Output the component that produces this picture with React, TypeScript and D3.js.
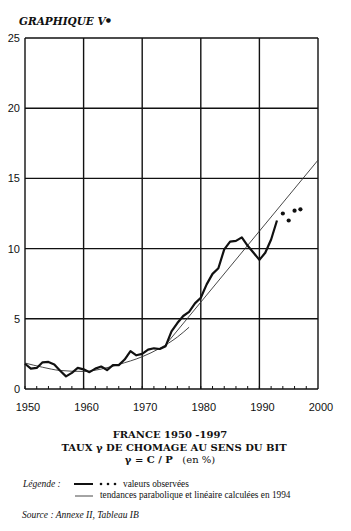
import { useMemo } from "react";
import * as d3 from "d3";

/* ------------------------------------------------------------------ */
/*  Data                                 */
/* ------------------------------------------------------------------ */

// Observed unemployment rate, 1950-1993 (solid line)
const observedYears = [
  1950, 1951, 1952, 1953, 1954, 1955, 1956, 1957, 1958, 1959,
  1960, 1961, 1962, 1963, 1964, 1965, 1966, 1967, 1968, 1969,
  1970, 1971, 1972, 1973, 1974, 1975, 1976, 1977, 1978, 1979,
  1980, 1981, 1982, 1983, 1984, 1985, 1986, 1987, 1988, 1989,
  1990, 1991, 1992, 1993,
];
const observedRates = [
  1.8, 1.45, 1.5, 1.9, 1.93, 1.75, 1.3, 0.9, 1.15, 1.5,
  1.4, 1.2, 1.45, 1.6, 1.35, 1.7, 1.7, 2.1, 2.7, 2.4,
  2.5, 2.8, 2.9, 2.85, 3.05, 4.1, 4.7, 5.2, 5.5, 6.1,
  6.5, 7.45, 8.2, 8.6, 9.95, 10.5, 10.55, 10.8, 10.2, 9.7,
  9.2, 9.7, 10.65, 12.0,
];

// Observed values after the trend date (dots)
const dotYears = [1994, 1995, 1996, 1997];
const dotRates = [12.5, 12.0, 12.7, 12.8];

// Parabolic trend (thin curve)
const paraYears = [1950, 1953, 1956, 1960, 1963, 1966, 1970, 1973, 1976, 1978];
const paraRates = [1.85, 1.55, 1.32, 1.25, 1.42, 1.75, 2.3, 2.9, 3.7, 4.4];

// Linear trend (thin straight line)
const linYears = [1974, 2000];
const linRates = [3.15, 16.3];

const yTicks = [0, 5, 10, 15, 20, 25];
const xTicks = [1950, 1960, 1970, 1980, 1990, 2000];

/* ------------------------------------------------------------------ */

const W = 351;
const H = 531;
const serif = "'DejaVu Serif', 'Liberation Serif', serif";
const times = "'Liberation Serif', serif";
const narrow = "'Liberation Sans Narrow', 'Liberation Sans', sans-serif";

export default function App() {
  const x = useMemo(() => d3.scaleLinear().domain([1950, 2000]).range([25, 318]), []);
  const y = useMemo(() => d3.scaleLinear().domain([0, 25]).range([389, 38]), []);

  const line = d3
    .line<[number, number]>()
    .x((d) => x(d[0]))
    .y((d) => y(d[1]));
  const curve = d3
    .line<[number, number]>()
    .x((d) => x(d[0]))
    .y((d) => y(d[1]))
    .curve(d3.curveMonotoneX);

  const observed = observedYears.map((yr, i) => [yr, observedRates[i]] as [number, number]);
  const para = paraYears.map((yr, i) => [yr, paraRates[i]] as [number, number]);
  const lin = linYears.map((yr, i) => [yr, linRates[i]] as [number, number]);
  const minorTicks = d3.range(1950, 2000, 2);

  return (
    <svg
      width={W}
      height={H}
      viewBox={`0 0 ${W} ${H}`}
      style={{ position: "absolute", left: 0, top: 0, background: "#fff" }}
    >
      {/* Header */}
      <text x={19} y={25} fontFamily={serif} fontSize={10.5} fontWeight={700} fontStyle="italic" fill="#111">
        GRAPHIQUE V
        <tspan fontSize={6} dy={-3}>●</tspan>
      </text>

      {/* Grid */}
      {yTicks.map((t) => (
        <line key={`h${t}`} x1={x(1950)} x2={x(2000)} y1={y(t)} y2={y(t)} stroke="#111" strokeWidth={t === 0 ? 1.7 : 1.4} />
      ))}
      {xTicks.map((t) => (
        <line key={`v${t}`} x1={x(t)} x2={x(t)} y1={y(0)} y2={y(25)} stroke="#111" strokeWidth={1.4} />
      ))}
      {minorTicks.map((t) => (
        <line key={`m${t}`} x1={x(t)} x2={x(t)} y1={y(0)} y2={y(0) - 3} stroke="#111" strokeWidth={1} />
      ))}

      {/* Axis labels */}
      {yTicks.map((t) => (
        <text key={`yl${t}`} x={20} y={y(t) + 4} textAnchor="end" fontFamily={narrow} fontSize={11} fill="#111">
          {t}
        </text>
      ))}
      {xTicks.map((t) => (
        <text key={`xl${t}`} x={x(t) + 3} y={411} textAnchor="middle" fontFamily={narrow} fontSize={11} fill="#111">
          {t}
        </text>
      ))}

      {/* Trends */}
      <path d={curve(para) ?? ""} fill="none" stroke="#333" strokeWidth={0.9} />
      <path d={line(lin) ?? ""} fill="none" stroke="#333" strokeWidth={0.9} />

      {/* Observed */}
      <path d={line(observed) ?? ""} fill="none" stroke="#111" strokeWidth={2.2} strokeLinejoin="round" />
      {dotYears.map((yr, i) => (
        <circle key={yr} cx={x(yr)} cy={y(dotRates[i])} r={2.1} fill="#111" />
      ))}

      {/* Captions */}
      <g fontFamily={serif} fontWeight={700} fill="#111" textAnchor="middle">
        <text x={170} y={438} fontSize={10}>FRANCE 1950 -1997</text>
        <text x={174} y={451} fontSize={10}>TAUX γ DE CHOMAGE AU SENS DU BIT</text>
        <text x={170} y={463} fontSize={10}>
          γ = C / P <tspan fontWeight={400} dx={6}>(en %)</tspan>
        </text>
      </g>

      {/* Legend */}
      <text x={23} y={487} fontFamily={times} fontSize={9.5} fontStyle="italic" fill="#111">Légende :</text>
      <line x1={74} x2={93} y1={484} y2={484} stroke="#111" strokeWidth={2} />
      {[101, 108, 115].map((cx) => (
        <circle key={cx} cx={cx} cy={484} r={1.3} fill="#111" />
      ))}
      <text x={123} y={487} fontFamily={times} fontSize={9.3} fill="#111">valeurs observées</text>
      <line x1={75} x2={93} y1={496} y2={496} stroke="#333" strokeWidth={0.9} />
      <text x={100} y={498} fontFamily={times} fontSize={9.3} fill="#111">
        tendances parabolique et linéaire calculées en 1994
      </text>

      <text x={22} y={518} fontFamily={times} fontSize={9.5} fontStyle="italic" fill="#111">
        Source : Annexe II, Tableau IB
      </text>
    </svg>
  );
}
